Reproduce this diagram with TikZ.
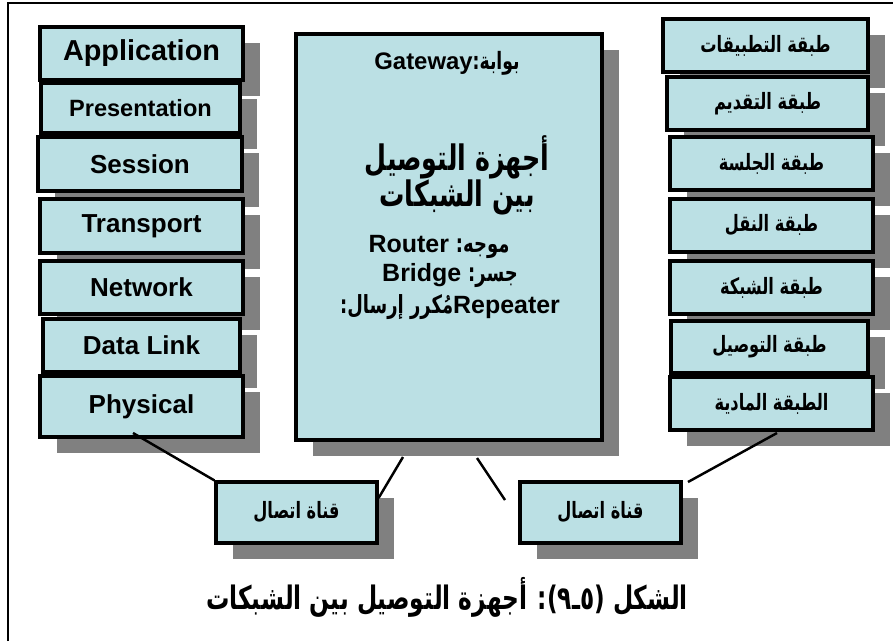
\documentclass[tikz,border=0pt]{standalone}
\usepackage{fontspec}
\setmainfont{Liberation Sans}
\newfontfamily\arabicfont[Script=Arabic, FakeStretch=0.72]{DejaVu Sans}
\TeXXeTstate=1
\usetikzlibrary{shadows}
\definecolor{boxfill}{RGB}{187,224,228}
\definecolor{shadowgray}{RGB}{128,128,128}

\begin{document}
\begin{tikzpicture}[scale=1,
    layer/.style={draw, line width=0.9pt, fill=boxfill, inner sep=0pt,
      drop shadow={shadow xshift=0.17cm, shadow yshift=-0.16cm, fill=shadowgray, opacity=1},
      font=\bfseries\fontsize{7.4}{9}\selectfont},
    arlayer/.style={layer, font=\arabicfont\bfseries\fontsize{6.4}{8}\selectfont},
    devtext/.style={inner sep=0pt, font=\bfseries\fontsize{7.1}{9}\selectfont},
    link/.style={line width=0.7pt}]

\useasboundingbox (0,0) rectangle (8.93,6.41);
\draw [line width=0.6pt] (0.08,0) -- (0.08,6.38) -- (8.93,6.38);

% OSI layers, left
\node [layer, minimum width=2.03cm, minimum height=0.53cm, font=\bfseries\fontsize{8.2}{10}\selectfont] (app) at (1.415,5.875) {Application};
\node [layer, minimum width=1.99cm, minimum height=0.50cm, font=\bfseries\fontsize{6.7}{8}\selectfont] (pres) at (1.405,5.33) {Presentation};
\node [layer, minimum width=2.04cm, minimum height=0.54cm] (sess) at (1.40,4.77) {Session};
\node [layer, minimum width=2.03cm, minimum height=0.54cm] (trans) at (1.415,4.15) {Transport};
\node [layer, minimum width=2.03cm, minimum height=0.53cm] (net) at (1.415,3.535) {Network};
\node [layer, minimum width=1.97cm, minimum height=0.53cm] (dlink) at (1.415,2.955) {Data Link};
\node [layer, minimum width=2.03cm, minimum height=0.61cm] (phys) at (1.415,2.345) {Physical};

% devices
\node [layer, minimum width=3.06cm, minimum height=4.06cm] (dev) at (4.49,4.04) {};
\node [devtext, font=\bfseries\fontsize{6.8}{8}\selectfont] (gate) at (4.47,5.78) {Gateway{\arabicfont\beginR بوابة:\endR}};
\node [inner sep=0pt, font=\arabicfont\bfseries\fontsize{10}{12}\selectfont] (devti) at (4.57,4.84) {\beginR أجهزة التوصيل\endR};
\node [inner sep=0pt, font=\arabicfont\bfseries\fontsize{10}{12}\selectfont] (devtii) at (4.57,4.44) {\beginR بين الشبكات\endR};
\node [devtext] (router) at (4.39,3.94) {Router {\arabicfont\beginR موجه:\endR}};
\node [devtext] (bridge) at (4.50,3.65) {Bridge {\arabicfont\beginR جسر:\endR}};
\node [devtext] (repeat) at (4.50,3.34) {{\arabicfont\beginR مُكرر إرسال:\endR}Repeater};

% OSI layers, right
\node [arlayer, minimum width=2.05cm, minimum height=0.53cm] (rapp) at (7.655,5.955) {\beginR طبقة التطبيقات\endR};
\node [arlayer, minimum width=2.01cm, minimum height=0.53cm] (rpres) at (7.675,5.375) {\beginR طبقة التقديم\endR};
\node [arlayer, minimum width=2.03cm, minimum height=0.53cm] (rsess) at (7.715,4.775) {\beginR طبقة الجلسة\endR};
\node [arlayer, minimum width=2.03cm, minimum height=0.53cm] (rtrans) at (7.715,4.155) {\beginR طبقة النقل\endR};
\node [arlayer, minimum width=2.03cm, minimum height=0.53cm] (rnet) at (7.715,3.535) {\beginR طبقة الشبكة\endR};
\node [arlayer, minimum width=1.97cm, minimum height=0.52cm] (rdlink) at (7.695,2.94) {\beginR طبقة التوصيل\endR};
\node [arlayer, minimum width=2.03cm, minimum height=0.53cm] (rphys) at (7.715,2.375) {\beginR الطبقة المادية\endR};

% channels
\node [arlayer, minimum width=1.61cm, minimum height=0.61cm] (chan1) at (2.965,1.285) {\beginR قناة اتصال\endR};
\node [arlayer, minimum width=1.61cm, minimum height=0.61cm] (chan2) at (6.005,1.285) {\beginR قناة اتصال\endR};

\coordinate (physend) at (1.33,2.08);
\coordinate (devleft) at (4.03,1.84);
\coordinate (devright) at (4.77,1.83);
\coordinate (chanfree) at (5.05,1.41);
\coordinate (chanright) at (6.88,1.59);
\coordinate (rphysend) at (7.77,2.08);
\draw [link] (physend) -- (chan1.north west);
\draw [link] (chan1.10) -- (devleft);
\draw [link] (devright) -- (chanfree);
\draw [link] (chanright) -- (rphysend);

\node [inner sep=0pt, font=\arabicfont\bfseries\fontsize{9.2}{11}\selectfont] (caption) at (4.47,0.44) {\beginR الشكل (\beginL ٥ـ٩\endL): أجهزة التوصيل بين الشبكات\endR};
\end{tikzpicture}
\end{document}
